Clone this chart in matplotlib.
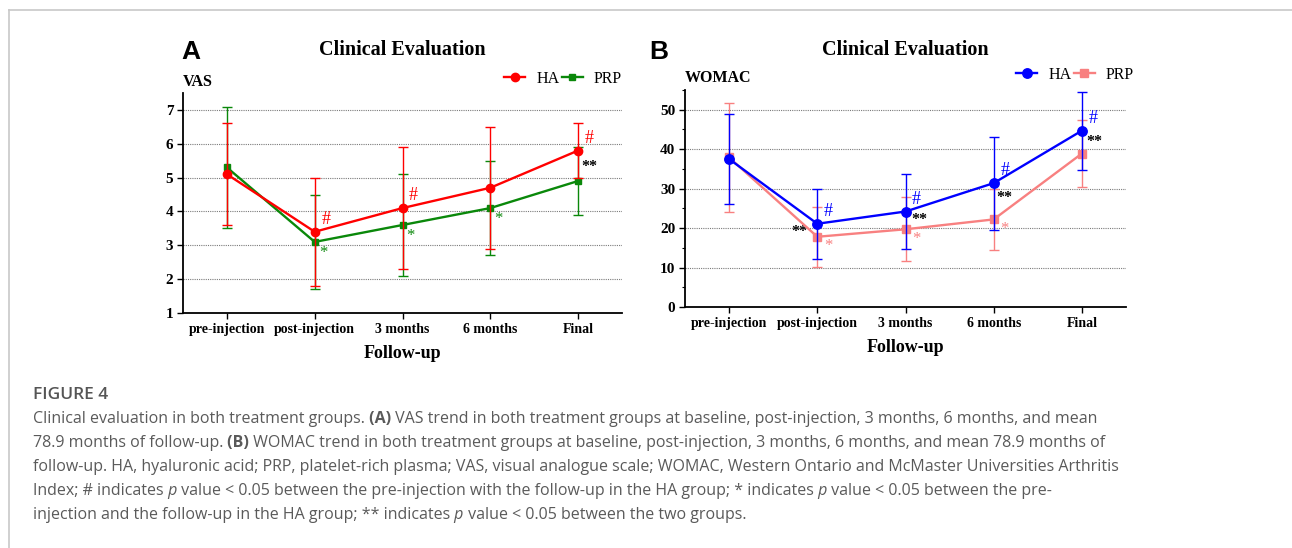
import matplotlib
matplotlib.use("Agg")
import matplotlib.pyplot as plt
from matplotlib.lines import Line2D
from matplotlib.ticker import MultipleLocator

# --- data ---
timepoints = ["pre-injection", "post-injection", "3 months", "6 months", "Final"]

vas_ha = [5.1, 3.4, 4.1, 4.7, 5.8]
vas_ha_sd = [1.5, 1.6, 1.8, 1.8, 0.8]
vas_prp = [5.3, 3.1, 3.6, 4.1, 4.9]
vas_prp_sd = [1.8, 1.4, 1.5, 1.4, 1.0]

womac_ha = [37.5, 21.1, 24.2, 31.4, 44.7]
womac_ha_sd = [11.4, 8.9, 9.6, 11.8, 9.9]
womac_prp = [37.9, 17.8, 19.7, 22.2, 38.9]
womac_prp_sd = [13.7, 7.6, 8.1, 7.7, 8.6]

# significance marks (index of timepoint)
vas_hash = [1, 2, 4]
vas_star = [1, 2, 3]
vas_dstar = [4]
vas_dstar_y = [5.32]

womac_hash = [1, 2, 3, 4]
womac_star = [1, 2, 3]
womac_dstar = [1, 2, 3, 4]
womac_dstar_y = [19.0, 22.1, 27.7, 41.9]
womac_dstar_dx = [-0.2, 0.16, 0.12, 0.14]

SERIF = "Liberation Serif"
W, H = 1292, 548
fig = plt.figure(figsize=(W / 100, H / 100), dpi=100)


def px_box(left, top, right, bottom):
    return [left / W, 1 - bottom / H, (right - left) / W, (bottom - top) / H]


def style_axes(ax, ylim, major, minor=None):
    x = list(range(len(timepoints)))
    ax.set_xlim(-0.5, 4.5)
    ax.set_ylim(*ylim)
    ax.set_xticks(x)
    ax.set_xticklabels(timepoints, fontfamily=SERIF, fontweight="bold", fontsize=10)
    ax.yaxis.set_major_locator(MultipleLocator(major))
    if minor:
        ax.yaxis.set_minor_locator(MultipleLocator(minor))
    for lab in ax.get_yticklabels():
        lab.set_fontfamily(SERIF)
        lab.set_fontweight("bold")
        lab.set_fontsize(11)
    ax.tick_params(axis="both", which="major", length=4, width=1, direction="out", pad=3)
    ax.tick_params(axis="y", which="minor", length=2, width=0.8)
    for s in ["top", "right"]:
        ax.spines[s].set_visible(False)
    for s in ["left", "bottom"]:
        ax.spines[s].set_linewidth(1.3)
    ax.yaxis.grid(True, which="major", linestyle=(0, (1, 1)), color="#7a7a7a", linewidth=0.8)
    ax.set_axisbelow(True)
    ax.set_xlabel("Follow-up", fontfamily=SERIF, fontweight="bold", fontsize=13, labelpad=7)


def series(ax, vals, sd, color, marker, ms, zorder):
    x = list(range(len(vals)))
    ax.errorbar(x, vals, yerr=sd, color=color, linewidth=1.7, elinewidth=1.0,
                capsize=3.3, capthick=1.0, marker=marker, markersize=ms,
                zorder=zorder)


def marks(ax, vals, idx, text, color, dx, dy, size):
    for i in idx:
        ax.annotate(text, (i, vals[i]), xytext=(dx, dy), textcoords="offset points",
                    color=color, fontsize=size, fontfamily=SERIF, ha="center", va="center")


def legend(ax, c1, m1, c2, m2, ms1, ms2, anchor):
    handles = [Line2D([], [], color=c1, marker=m1, markersize=ms1, linewidth=1.7),
               Line2D([], [], color=c2, marker=m2, markersize=ms2, linewidth=1.7)]
    ax.legend(handles, ["HA", "PRP"], ncol=2, frameon=False, loc="center right",
              bbox_to_anchor=anchor, prop={"family": SERIF, "size": 11.5},
              handlelength=1.3, handletextpad=0.7, columnspacing=0.15,
              borderaxespad=0.0, borderpad=0.0)


# ---- panel A ----
axA = fig.add_axes(px_box(183, 93, 622, 313))
style_axes(axA, (1, 7.5), 1)
series(axA, vas_prp, vas_prp_sd, "#0a880a", "s", 5.0, 3)
series(axA, vas_ha, vas_ha_sd, "#ff0000", "o", 6.0, 4)
marks(axA, vas_ha, vas_hash, "#", "#ff0000", 8, 9, 13)
marks(axA, vas_prp, vas_star, "*", "#0a880a", 6, -8, 12)
for i, y in zip(vas_dstar, vas_dstar_y):
    axA.text(i + 0.13, y, "**", fontsize=11.5, fontfamily=SERIF, fontweight="bold",
             ha="center", va="center", color="black")
legend(axA, "#ff0000", "o", "#0a880a", "s", 6.0, 5.0, ((622) / 439 - 183 / 439, 1 + 14 / 220))
fig.text(183 / W, 1 - 82 / H, "VAS", fontfamily=SERIF, fontweight="bold", fontsize=11.5,
         ha="left", va="center")
fig.text(402 / W, 1 - 50 / H, "Clinical Evaluation", fontfamily=SERIF, fontweight="bold",
         fontsize=14.5, ha="center", va="center")
fig.text(181 / W, 1 - 52 / H, "A", fontfamily="Liberation Sans", fontweight="bold",
         fontsize=19, ha="left", va="center")

# ---- panel B ----
axB = fig.add_axes(px_box(685, 90, 1126, 307))
style_axes(axB, (0, 55), 10, 5)
series(axB, womac_prp, womac_prp_sd, "#f88080", "s", 6.4, 3)
series(axB, womac_ha, womac_ha_sd, "#0000ff", "o", 6.8, 4)
marks(axB, womac_ha, womac_hash, "#", "#0000ff", 8, 9, 13)
marks(axB, womac_prp, womac_star, "*", "#f88080", 8, -7, 12)
for i, y, dx in zip(womac_dstar, womac_dstar_y, womac_dstar_dx):
    axB.text(i + dx, y, "**", fontsize=11.5, fontfamily=SERIF, fontweight="bold",
             ha="center", va="center", color="black")
legend(axB, "#0000ff", "o", "#f88080", "s", 6.8, 6.4, (1 + 8 / 441, 1 + 15 / 217))
fig.text(685 / W, 1 - 78 / H, "WOMAC", fontfamily=SERIF, fontweight="bold", fontsize=11.5,
         ha="left", va="center")
fig.text(905 / W, 1 - 50 / H, "Clinical Evaluation", fontfamily=SERIF, fontweight="bold",
         fontsize=14.5, ha="center", va="center")
fig.text(649 / W, 1 - 52 / H, "B", fontfamily="Liberation Sans", fontweight="bold",
         fontsize=19, ha="left", va="center")

# ---- frame lines ----
fig.add_artist(Line2D([9 / W, 1], [1 - 10 / H, 1 - 10 / H], color="#c8c8c8", linewidth=1.2))
fig.add_artist(Line2D([9 / W, 9 / W], [0, 1 - 10 / H], color="#c8c8c8", linewidth=1.2))

# ---- caption ----
CAP = "Open Sans"
CAP_COLOR = "#5a5a5a"
renderer = fig.canvas.get_renderer()


def draw_runs(x_px, y_px, runs):
    x = x_px
    for txt, weight, style in runs:
        t = fig.text(x / W, 1 - y_px / H, txt, fontfamily=CAP, fontsize=11.5,
                     fontweight=weight, fontstyle=style, color=CAP_COLOR,
                     ha="left", va="center")
        x += t.get_window_extent(renderer).width


fig.text(33 / W, 1 - 395 / H, "FIGURE 4", fontfamily=CAP, fontsize=12.5,
         fontweight="semibold", color="#555555", ha="left", va="center")

n, b, it = "normal", "bold", "italic"
caption_lines = [
    [("Clinical evaluation in both treatment groups.", n, n), (" (A)", b, n),
     (" VAS trend in both treatment groups at baseline, post-injection, 3 months, 6 months, and mean", n, n)],
    [("78.9 months of follow-up.", n, n), (" (B)", b, n),
     (" WOMAC trend in both treatment groups at baseline, post-injection, 3 months, 6 months, and mean 78.9 months of", n, n)],
    [("follow-up. HA, hyaluronic acid; PRP, platelet-rich plasma; VAS, visual analogue scale; WOMAC, Western Ontario and McMaster Universities Arthritis", n, n)],
    [("Index; # indicates", n, n), (" p", n, it),
     (" value < 0.05 between the pre-injection with the follow-up in the HA group; * indicates", n, n),
     (" p", n, it), (" value < 0.05 between the pre-", n, n)],
    [("injection and the follow-up in the HA group; ** indicates", n, n), (" p", n, it),
     (" value < 0.05 between the two groups.", n, n)],
]
for k, line in enumerate(caption_lines):
    draw_runs(33, 419 + 24 * k, line)

fig.savefig("out.png", dpi=100)
